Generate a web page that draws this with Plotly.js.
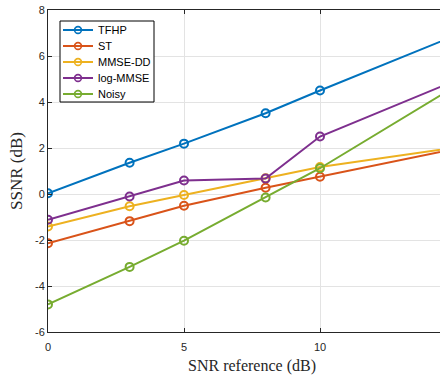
<!DOCTYPE html>
<html>
<head>
<meta charset="utf-8">
<script src="https://cdn.plot.ly/plotly-3.0.1.min.js"></script>
<style>html,body{margin:0;padding:0;background:#fff;overflow:hidden;}#chart{width:440px;height:379px;overflow:hidden;}</style>
</head>
<body>
<div id="chart"></div>
<script>
const snrRef = [0, 3, 5, 8, 10, 15];
const seriesNames = ["TFHP", "ST", "MMSE-DD", "log-MMSE", "Noisy"];
const tfhp    = [0.03, 1.36, 2.19, 3.51, 4.50, 6.90];
const st      = [-2.14, -1.18, -0.51, 0.27, 0.75, 1.97];
const mmseDD  = [-1.41, -0.53, -0.04, 0.68, 1.17, 2.03];
const logMMSE = [-1.12, -0.11, 0.59, 0.67, 2.50, 4.94];
const noisy   = [-4.80, -3.17, -2.03, -0.15, 1.12, 4.70];
const xTicks = [0, 5, 10, 15];
const yTicks = [-6, -4, -2, 0, 2, 4, 6, 8];

const colors = ["#0072BD", "#D95319", "#EDB120", "#7E2F8E", "#77AC30"];
const allSeries = [tfhp, st, mmseDD, logMMSE, noisy];

const traces = allSeries.map((ys, i) => ({
  x: snrRef, y: ys, name: seriesNames[i], type: "scatter", mode: "lines+markers",
  line: {color: colors[i], width: 2},
  marker: {symbol: "circle-open", size: 8, color: colors[i], line: {width: 2, color: colors[i]}},
  showlegend: false
}));

// The original figure is wider than the visible 440px window (it is cropped on the right),
// so the full axes run 0..15 and the page clips the overflow.
const M = {l: 48, r: 0, t: 10, b: 47};
const W = 456, H = 379;
const pw = W - M.l - M.r, ph = H - M.t - M.b;
const px = v => (v - M.l) / pw;
const py = v => (H - M.b - v) / ph;

// Custom MATLAB-style legend
const leg = {left: 60, top: 21, right: 154, bottom: 102, rowTop: 30, rowStep: 16, lineX0: 63, lineX1: 93, textX: 96, r: 3.4};
const shapes = [{
  type: "rect", xref: "paper", yref: "paper", layer: "above",
  x0: px(leg.left), x1: px(leg.right), y0: py(leg.bottom), y1: py(leg.top),
  line: {color: "#000", width: 1}, fillcolor: "#fff"
}];
const annotations = [];
seriesNames.forEach((name, i) => {
  const yc = leg.rowTop + i * leg.rowStep;
  shapes.push({type: "line", xref: "paper", yref: "paper", layer: "above",
    x0: px(leg.lineX0), x1: px(leg.lineX1), y0: py(yc), y1: py(yc),
    line: {color: colors[i], width: 2}});
  const cx = (leg.lineX0 + leg.lineX1) / 2;
  shapes.push({type: "circle", xref: "paper", yref: "paper", layer: "above",
    x0: px(cx - leg.r), x1: px(cx + leg.r), y0: py(yc + leg.r), y1: py(yc - leg.r),
    line: {color: colors[i], width: 1.6}, fillcolor: "rgba(0,0,0,0)"});
  annotations.push({xref: "paper", yref: "paper", x: px(leg.textX), y: py(yc),
    xanchor: "left", yanchor: "middle", showarrow: false, text: name,
    font: {family: "Liberation Sans, Arial, sans-serif", size: 11, color: "#000"}});
});

const layout = {
  width: W, height: H,
  margin: M,
  paper_bgcolor: "#fff", plot_bgcolor: "#fff",
  font: {family: "Liberation Sans, Arial, sans-serif", size: 11, color: "#262626"},
  showlegend: false,
  shapes: shapes,
  annotations: annotations,
  xaxis: {
    range: [0, 15], tickvals: xTicks, ticktext: xTicks.map(String),
    showgrid: true, gridcolor: "#e3e3e3", gridwidth: 1, zeroline: false,
    showline: true, linecolor: "#262626", linewidth: 1, mirror: "ticks",
    ticks: "inside", ticklen: 4, tickcolor: "#262626", ticklabelstandoff: 5,
    tickfont: {size: 11, color: "#262626"},
    title: {text: "SNR reference (dB)", font: {family: "Liberation Serif, Times New Roman, serif", size: 16, color: "#262626"}, standoff: 7}
  },
  yaxis: {
    range: [-6, 8], tickvals: yTicks, ticktext: yTicks.map(String),
    showgrid: true, gridcolor: "#e3e3e3", gridwidth: 1, zeroline: false,
    showline: true, linecolor: "#262626", linewidth: 1,
    ticks: "inside", ticklen: 4, tickcolor: "#262626",
    tickfont: {size: 11, color: "#262626"},
    title: {text: "SSNR (dB)", font: {family: "Liberation Serif, Times New Roman, serif", size: 17, color: "#262626"}, standoff: 8}
  }
};

Plotly.newPlot("chart", traces, layout, {displayModeBar: false, staticPlot: true});
</script>
</body>
</html>
